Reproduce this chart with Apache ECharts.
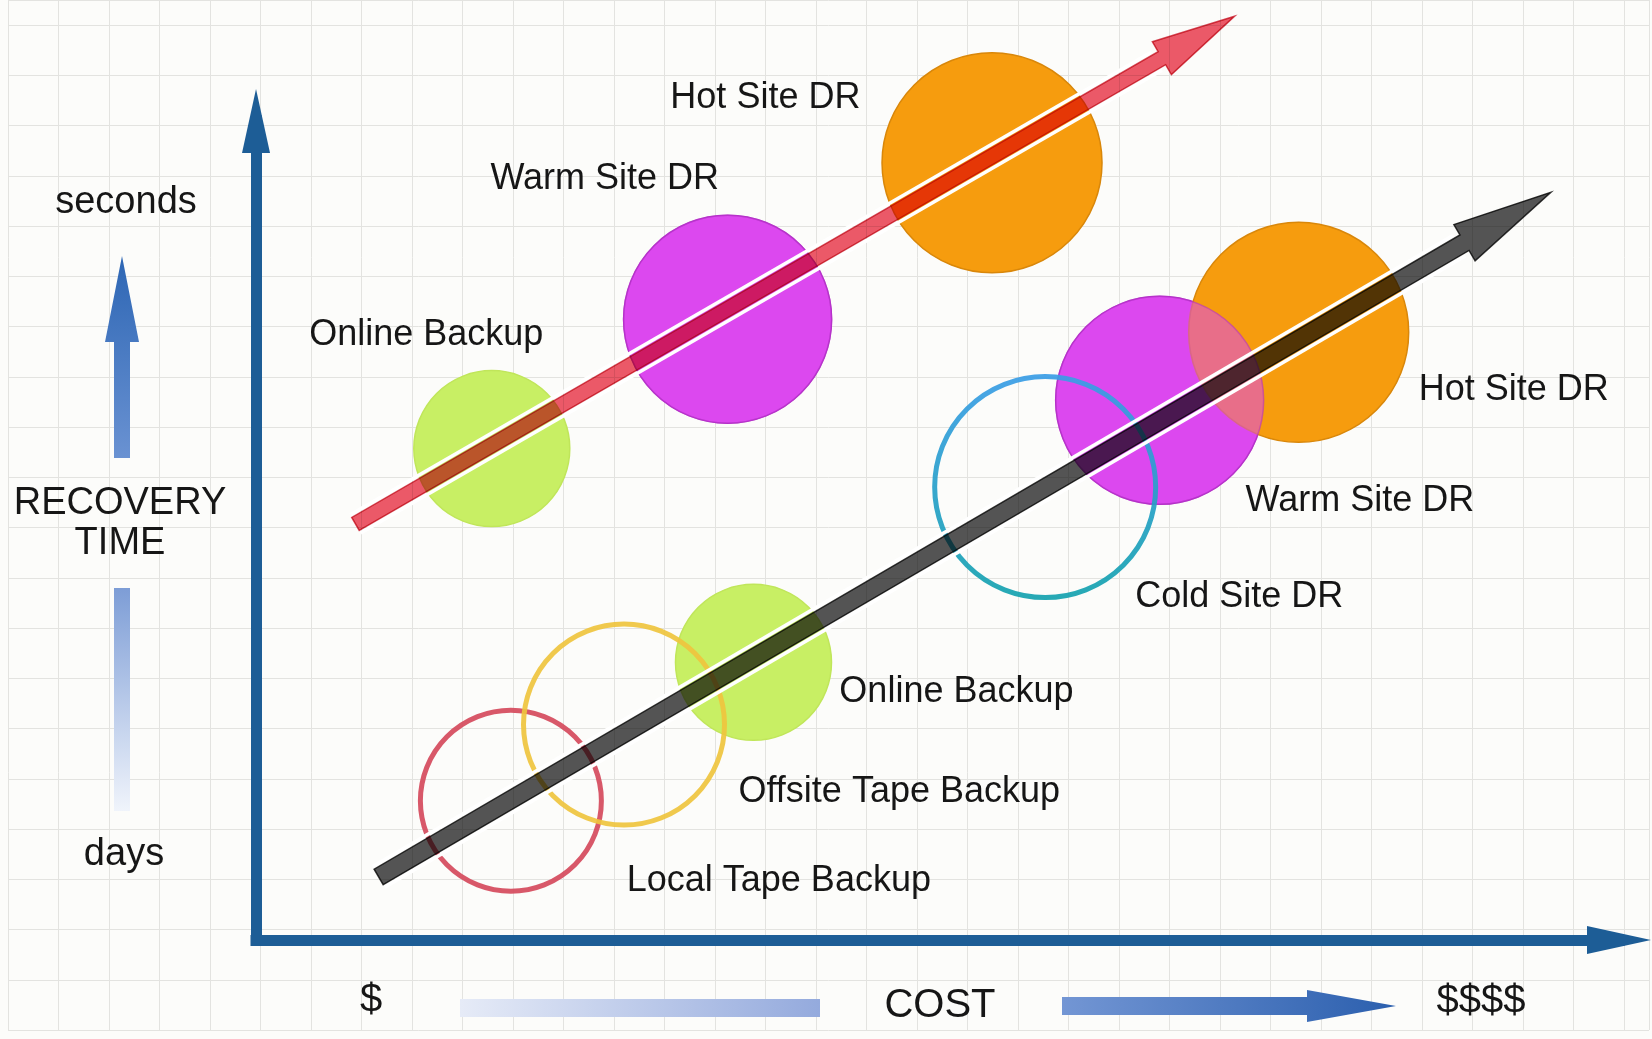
<!DOCTYPE html>
<html>
<head>
<meta charset="utf-8">
<title>Recovery time vs cost</title>
<script src="https://cdn.jsdelivr.net/npm/echarts@6/dist/echarts.min.js"></script>
<style>
  html, body { margin: 0; padding: 0; background: #fcfcfa; }
  #chart { width: 1652px; height: 1039px; }
</style>
</head>
<body>
<div id="chart"></div>
<script>
// x = cost, y = recovery speed (notional 0..100 scales)
const upperNames = ['Online Backup', 'Warm Site DR', 'Hot Site DR'];
const upperCost = [17.3, 34.6, 54.0];
const upperSpeed = [60.0, 75.8, 94.9];
const upperWeight = [78, 104, 110];

const lowerNames = ['Local Tape Backup', 'Offsite Tape Backup', 'Online Backup', 'Cold Site DR', 'Warm Site DR', 'Hot Site DR'];
const lowerCost = [18.7, 27.0, 36.5, 57.9, 66.3, 76.5];
const lowerSpeed = [17.0, 26.3, 33.9, 55.3, 65.9, 74.2];
const lowerWeight = [93, 103, 78, 113, 104, 110];

// where each name is written (left end of the text)
const upperLabelCost = [3.9, 17.2, 30.4];
const upperLabelSpeed = [73.9, 92.9, 102.8];
const lowerLabelCost = [27.2, 35.4, 42.8, 64.5, 72.6, 85.3];
const lowerLabelSpeed = [7.2, 18.1, 30.3, 41.9, 53.6, 67.2];

// trend arrows, tail and tip as [cost, speed]
const trendTail = [[7.3, 50.8], [9.0, 7.7]];
const trendTip = [[71.8, 112.8], [95.0, 91.3]];

const FONT = '"Liberation Sans", Arial, Helvetica, sans-serif';
const INK = '#161616';

const kindStyle = {
  'Online Backup': { fill: '#c8ef64', border: '#c0e65a' },
  'Warm Site DR': { fill: '#dc48ef', border: '#b330c6' },
  'Hot Site DR': { fill: '#f69c0e', border: '#d9870a' },
  'Local Tape Backup': { ring: '#d54a5c' },
  'Offsite Tape Backup': { ring: '#efc43e' },
  'Cold Site DR': {
    ring: new echarts.graphic.LinearGradient(0, 0, 0, 1, [
      { offset: 0, color: '#3a9de6' },
      { offset: 1, color: '#14a2ae' }
    ])
  }
};

const trendStyle = [
  { color: '#ee5a6a', edge: '#d84858', width: 15, headLen: 84, headHalf: 19 },
  { color: '#555555', edge: '#363636', width: 18, headLen: 100, headHalf: 21 }
];

function toPoints(names, cost, speed, weight) {
  return names.map((n, i) => ({ name: n, value: [cost[i], speed[i], weight[i]] }));
}
const bubbles = toPoints(upperNames, upperCost, upperSpeed, upperWeight)
  .concat(toPoints(lowerNames, lowerCost, lowerSpeed, lowerWeight));
const filled = bubbles.filter((d) => kindStyle[d.name].fill);
const rings = bubbles.filter((d) => kindStyle[d.name].ring);

const labelNames = upperNames.concat(lowerNames);
const labelData = upperLabelCost.map((c, i) => [c, upperLabelSpeed[i]])
  .concat(lowerLabelCost.map((c, i) => [c, lowerLabelSpeed[i]]));

const trendData = trendTail.map((t, i) => [t[0], t[1], trendTip[i][0], trendTip[i][1]]);

// geometry of one arrow in pixels
function frame(api) {
  const p0 = api.coord([api.value(0), api.value(1)]);
  const p1 = api.coord([api.value(2), api.value(3)]);
  const dx = p1[0] - p0[0];
  const dy = p1[1] - p0[1];
  const len = Math.hypot(dx, dy);
  const ux = dx / len;
  const uy = dy / len;
  return { p0, p1, len, ux, uy, nx: -uy, ny: ux };
}

function arrowItem(params, api) {
  const st = trendStyle[params.dataIndex];
  const f = frame(api);
  const hw = st.width / 2;
  const bx = f.p1[0] - f.ux * st.headLen;
  const by = f.p1[1] - f.uy * st.headLen;
  const off = (x, y, k) => [x + f.nx * k, y + f.ny * k];
  const points = [
    off(f.p0[0], f.p0[1], hw), off(bx, by, hw), off(bx, by, st.headHalf), f.p1,
    off(bx, by, -st.headHalf), off(bx, by, -hw), off(f.p0[0], f.p0[1], -hw)
  ];
  return {
    type: 'polygon',
    shape: { points },
    style: { fill: st.color, stroke: st.edge, lineWidth: 1.5 }
  };
}

function haloItem(params, api) {
  const st = trendStyle[params.dataIndex];
  const f = frame(api);
  const k = st.width / 2 + 3;
  const end = f.len - st.headLen - 6;
  const ex = f.p0[0] + f.ux * end;
  const ey = f.p0[1] + f.uy * end;
  const edge = (s) => ({
    type: 'line',
    shape: { x1: f.p0[0] + f.nx * k * s, y1: f.p0[1] + f.ny * k * s, x2: ex + f.nx * k * s, y2: ey + f.ny * k * s },
    style: { stroke: '#ffffff', lineWidth: 3.5 }
  });
  return { type: 'group', children: [edge(1), edge(-1)] };
}

function nameItem(params, api) {
  const p = api.coord([api.value(0), api.value(1)]);
  return {
    type: 'text',
    x: p[0],
    y: p[1],
    style: {
      text: labelNames[params.dataIndex],
      fontSize: 36, fontFamily: FONT, fill: INK,
      align: 'left', verticalAlign: 'middle'
    }
  };
}

const hiddenAxis = {
  axisLine: { show: false },
  axisTick: { show: false },
  axisLabel: { show: false }
};
const blueLine = {
  show: true,
  onZero: false,
  symbol: ['none', 'triangle'],
  symbolSize: [28, 64],
  lineStyle: { color: '#1d5d96', width: 11, cap: 'square' }
};

function gradV(a, b) {
  return new echarts.graphic.LinearGradient(0, 0, 0, 1, [{ offset: 0, color: a }, { offset: 1, color: b }]);
}
function gradH(a, b) {
  return new echarts.graphic.LinearGradient(0, 0, 1, 0, [{ offset: 0, color: a }, { offset: 1, color: b }]);
}
function label(text, x, y, size) {
  return {
    type: 'text', x, y, z: 100, silent: true,
    style: { text, fontSize: size, fontFamily: FONT, fill: INK, align: 'center', verticalAlign: 'middle', lineHeight: 40 }
  };
}

const chart = echarts.init(document.getElementById('chart'), null, { renderer: 'canvas' });

chart.setOption({
  backgroundColor: '#fcfcfa',
  animation: false,
  grid: [
    { left: 8, right: 3, top: 0, bottom: 9 },
    { left: 256, right: 33, top: 121, bottom: 99 }
  ],
  xAxis: [
    {
      type: 'value', gridIndex: 0, min: 0, max: 32.5, interval: 1, ...hiddenAxis,
      splitLine: { show: true, lineStyle: { color: '#e3e3e0', width: 1 } }
    },
    {
      type: 'value', gridIndex: 1, min: 0, max: 100,
      axisLine: blueLine, axisTick: { show: false }, axisLabel: { show: false }, splitLine: { show: false }
    }
  ],
  yAxis: [
    {
      type: 'value', gridIndex: 0, min: 0, max: 20.5, interval: 1, ...hiddenAxis,
      splitLine: { show: true, lineStyle: { color: '#e3e3e0', width: 1 } }
    },
    {
      type: 'value', gridIndex: 1, min: 0, max: 100,
      axisLine: blueLine, axisTick: { show: false }, axisLabel: { show: false }, splitLine: { show: false }
    }
  ],
  series: [
    {
      name: 'filled',
      type: 'scatter', xAxisIndex: 1, yAxisIndex: 1, z: 2, clip: false, silent: true,
      symbol: 'circle',
      symbolSize: (v) => v[2] * 2,
      data: filled.map((d) => ({
        name: d.name,
        value: d.value,
        itemStyle: { color: kindStyle[d.name].fill, borderColor: kindStyle[d.name].border, borderWidth: 1.5, opacity: 1 }
      }))
    },
    {
      // warm site drawn again, see-through, so its overlap with hot site blends
      name: 'warm-overlay',
      type: 'scatter', xAxisIndex: 1, yAxisIndex: 1, z: 3, clip: false, silent: true,
      symbol: 'circle',
      symbolSize: (v) => v[2] * 2,
      data: filled.filter((d) => d.name === 'Warm Site DR').map((d) => ({
        name: d.name,
        value: d.value,
        itemStyle: { color: kindStyle[d.name].fill, borderColor: kindStyle[d.name].border, borderWidth: 1.5, opacity: 0.55 }
      }))
    },
    {
      name: 'rings',
      type: 'scatter', xAxisIndex: 1, yAxisIndex: 1, z: 4, clip: false, silent: true,
      symbol: 'circle',
      symbolSize: (v) => v[2] * 2 - 5,
      data: rings.map((d) => ({
        name: d.name,
        value: d.value,
        itemStyle: { color: 'rgba(0,0,0,0)', borderColor: kindStyle[d.name].ring, borderWidth: 5, opacity: 0.92 }
      }))
    },
    {
      name: 'halo',
      type: 'custom', xAxisIndex: 1, yAxisIndex: 1, z: 5, silent: true,
      encode: { x: [0, 2], y: [1, 3] },
      renderItem: haloItem,
      data: trendData
    },
    {
      name: 'trend',
      type: 'custom', xAxisIndex: 1, yAxisIndex: 1, z: 6, silent: true,
      blendMode: 'multiply',
      encode: { x: [0, 2], y: [1, 3] },
      renderItem: arrowItem,
      data: trendData
    },
    {
      name: 'names',
      type: 'custom', xAxisIndex: 1, yAxisIndex: 1, z: 7, silent: true,
      encode: { x: 0, y: 1 },
      renderItem: nameItem,
      data: labelData
    }
  ],
  graphic: [
    label('seconds', 126, 203, 38),
    {
      type: 'polygon', z: 100, silent: true,
      shape: { points: [[122, 256], [139, 342], [130, 342], [130, 458], [114, 458], [114, 342], [105, 342]] },
      style: { fill: gradV('#2d66b4', '#6a92d2') }
    },
    label('RECOVERY\nTIME', 120, 524, 38),
    {
      type: 'rect', z: 100, silent: true,
      shape: { x: 114, y: 588, width: 16, height: 223 },
      style: { fill: gradV('#7d9dd6', '#f0f4fb') }
    },
    label('days', 124, 855, 38),
    label('$', 371, 1001, 40),
    {
      type: 'rect', z: 100, silent: true,
      shape: { x: 460, y: 999, width: 360, height: 18 },
      style: { fill: gradH('#e6ebf7', '#94aadd') }
    },
    label('COST', 940, 1006, 40),
    {
      type: 'polygon', z: 100, silent: true,
      shape: { points: [[1062, 997], [1307, 997], [1307, 990], [1396, 1006], [1307, 1022], [1307, 1015], [1062, 1015]] },
      style: { fill: gradH('#7396d4', '#2b5fae') }
    },
    label('$$$$', 1481, 1002, 40)
  ]
});

window.addEventListener('resize', () => chart.resize());
</script>
</body>
</html>
